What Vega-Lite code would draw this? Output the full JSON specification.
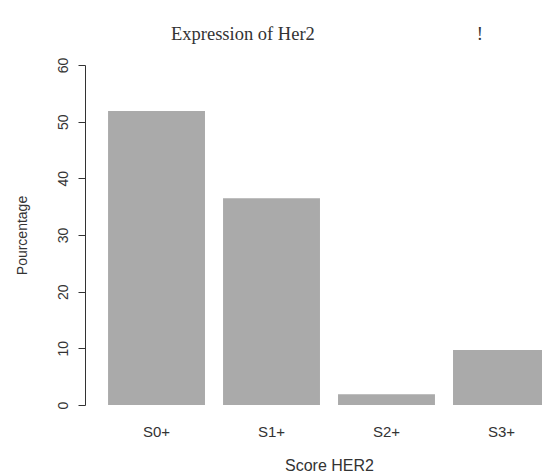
{
  "$schema": "https://vega.github.io/schema/vega-lite/v6.json",
  "autosize": {"type": "none"},
  "width": 442,
  "height": 340,
  "padding": {"left": 100, "top": 65, "right": 0, "bottom": 68},
  "background": "white",
  "title": {
    "text": "Expression of Her2\u00a0\u00a0\u00a0\u00a0\u00a0\u00a0\u00a0\u00a0\u00a0\u00a0\u00a0\u00a0\u00a0\u00a0\u00a0\u00a0\u00a0\u00a0\u00a0\u00a0\u00a0\u00a0\u00a0\u00a0\u00a0\u00a0\u00a0\u00a0\u00a0\u00a0\u00a0\u00a0\u00a0\u00a0\u00a0!",
    "anchor": "start",
    "frame": "group",
    "font": "Liberation Serif",
    "fontSize": 18.5,
    "fontWeight": "normal",
    "color": "#333333",
    "dx": 71,
    "offset": 14
  },
  "data": {
    "values": [
      {"score": "S0+", "pct": 51.9},
      {"score": "S1+", "pct": 36.5},
      {"score": "S2+", "pct": 1.9},
      {"score": "S3+", "pct": 9.7}
    ]
  },
  "mark": {"type": "bar", "color": "#AAAAAA", "clip": true},
  "encoding": {
    "x": {
      "field": "score",
      "type": "nominal",
      "sort": null,
      "scale": {"range": [0, 458], "paddingInner": 0.157, "paddingOuter": 0.07},
      "axis": {
        "title": "Score HER2",
        "labelAngle": 0,
        "domain": false,
        "ticks": false,
        "labelFont": "Liberation Sans",
        "labelFontSize": 15,
        "labelColor": "#333333",
        "labelPadding": 19,
        "titleFont": "Liberation Sans",
        "titleFontSize": 16,
        "titleFontWeight": "normal",
        "titleColor": "#333333",
        "titlePadding": 18
      }
    },
    "y": {
      "field": "pct",
      "type": "quantitative",
      "scale": {"domain": [0, 60], "nice": false, "zero": true},
      "axis": {
        "title": "Pourcentage",
        "values": [0, 10, 20, 30, 40, 50, 60],
        "grid": false,
        "offset": 15,
        "domainColor": "#333333",
        "tickColor": "#333333",
        "tickSize": 7,
        "labelAngle": -90,
        "labelAlign": "center",
        "labelBaseline": "bottom",
        "labelFont": "Liberation Sans",
        "labelFontSize": 14,
        "labelColor": "#333333",
        "labelPadding": 8,
        "titleFont": "Liberation Sans",
        "titleFontSize": 14,
        "titleFontWeight": "normal",
        "titleColor": "#333333",
        "titlePadding": 27
      }
    }
  },
  "config": {"view": {"stroke": null}}
}
